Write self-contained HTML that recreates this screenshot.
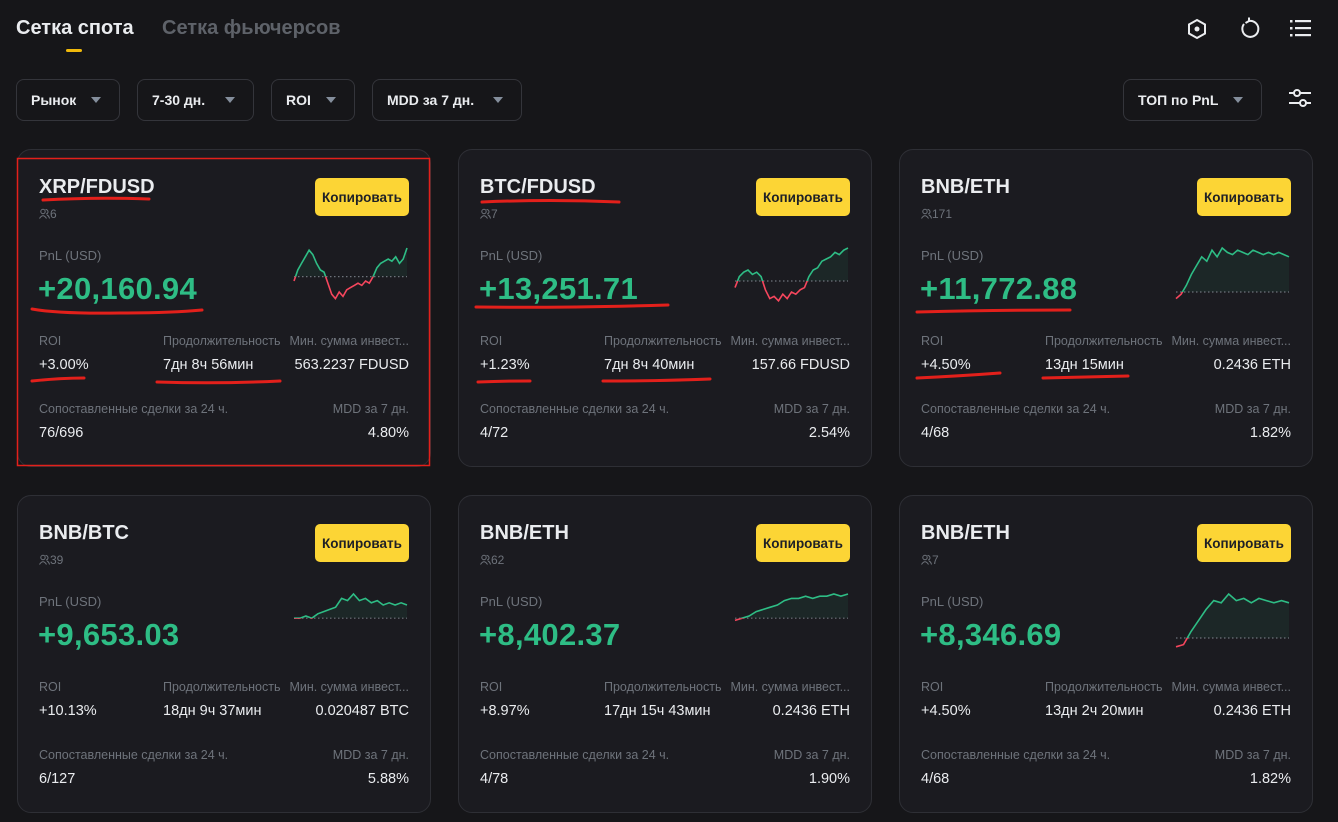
<!DOCTYPE html>
<html><head><meta charset="utf-8">
<style>
*{box-sizing:border-box;margin:0;padding:0}
body{width:1338px;height:822px;background:#161619;font-family:"Liberation Sans",sans-serif;color:#eaecef;position:relative;overflow:hidden}
.abs{position:absolute}
.tab{position:absolute;top:17px;font-size:20px;font-weight:bold}
.filter{position:absolute;top:79px;height:42px;border:1px solid #34353b;border-radius:8px;font-size:14px;font-weight:bold;color:#eaecef;display:flex;align-items:center;padding-left:14px}
.filter .car{position:absolute;right:18px;top:17px;width:0;height:0;border-left:5px solid transparent;border-right:5px solid transparent;border-top:6px solid #848e9c}
.card{position:absolute;width:414px;height:318px;background:#1b1b20;border:1px solid #2e2f35;border-radius:14px}
.card .t{position:absolute;left:21px;top:26px;font-size:20px;font-weight:bold;color:#eaecef}
.card .u{position:absolute;left:21px;top:57px;font-size:12px;color:#6e737b}
.card .btn{position:absolute;left:297px;top:28px;width:94px;height:38px;background:#fcd535;border-radius:5px;color:#1e2026;font-size:13.5px;font-weight:bold;display:flex;align-items:center;justify-content:center}
.card .pl{position:absolute;left:21px;top:98px;font-size:13px;color:#6e737b}
.card .pv{position:absolute;left:20px;top:121px;font-size:31px;font-weight:bold;color:#2ebd85;letter-spacing:0.3px}
.card .lb{position:absolute;font-size:12.5px;color:#6e737b;white-space:nowrap}
.card .vl{position:absolute;font-size:14.5px;color:#eaecef;white-space:nowrap}
.card svg.sp{position:absolute;left:274px;top:94px}
</style></head><body>
<div class="tab" style="left:16px;color:#eaecef">Сетка спота</div>
<div class="abs" style="left:66px;top:49px;width:16px;height:3px;background:#f0b90b;border-radius:2px"></div>
<div class="tab" style="left:162px;color:#5e6269">Сетка фьючерсов</div>

<svg class="abs" style="left:1186px;top:18px" width="22" height="22" viewBox="0 0 22 22"><polygon points="11,2 19,6.5 19,15.5 11,20 3,15.5 3,6.5" fill="none" stroke="#eaecef" stroke-width="2"/><circle cx="11" cy="11" r="2.5" fill="#eaecef"/></svg>
<svg class="abs" style="left:1237px;top:17px" width="24" height="24" viewBox="0 0 24 24"><path d="M7 7 A8 8 0 1 0 12 4" fill="none" stroke="#eaecef" stroke-width="2"/><polyline points="12,0.5 12,4 8.5,6" fill="none" stroke="#eaecef" stroke-width="2"/></svg>
<svg class="abs" style="left:1290px;top:18px" width="22" height="20" viewBox="0 0 22 20"><g fill="#eaecef"><rect x="0" y="2" width="2.5" height="2.5"/><rect x="0" y="9" width="2.5" height="2.5"/><rect x="0" y="16" width="2.5" height="2.5"/><rect x="5" y="2" width="16" height="2.2"/><rect x="5" y="9" width="16" height="2.2"/><rect x="5" y="16" width="16" height="2.2"/></g></svg>

<div class="filter" style="left:16px;width:104px">Рынок<span class="car"></span></div>
<div class="filter" style="left:137px;width:117px">7-30 дн.<span class="car"></span></div>
<div class="filter" style="left:271px;width:84px">ROI<span class="car"></span></div>
<div class="filter" style="left:372px;width:150px">MDD за 7 дн.<span class="car"></span></div>
<div class="filter" style="left:1123px;width:139px">ТОП по PnL<span class="car"></span></div>
<svg class="abs" style="left:1288px;top:86px" width="24" height="24" viewBox="0 0 24 24"><g stroke="#eaecef" stroke-width="2" fill="#161619"><line x1="1" y1="7" x2="23" y2="7"/><line x1="1" y1="17" x2="23" y2="17"/><circle cx="9" cy="7" r="3"/><circle cx="15" cy="17" r="3"/></g></svg>

<div id="cards"></div>

<svg class="abs" style="left:0;top:0;pointer-events:none" width="1338" height="822">
<g fill="none" stroke="#e3201b" stroke-width="3" stroke-linecap="round">
<rect x="17.5" y="158.5" width="412" height="307" stroke-width="1.5"/>
<path d="M43 200 Q95 197 149 199"/>
<path d="M32 309 Q60 314 120 313 Q170 313 202 310"/>
<path d="M32 381 Q60 378 84 378"/>
<path d="M157 382 Q220 384 280 381"/>
<path d="M482 202 Q550 199 619 202"/>
<path d="M476 307 Q560 308 668 305"/>
<path d="M478 382 Q505 381 530 381"/>
<path d="M603 381 Q660 381 710 379"/>
<path d="M917 312 Q1000 310 1070 310"/>
<path d="M917 378 Q960 376 1000 373"/>
<path d="M1043 378 Q1090 377 1128 376"/>
</g></svg>

<script>
const pairs=["XRP/FDUSD","BTC/FDUSD","BNB/ETH","BNB/BTC","BNB/ETH","BNB/ETH"];
const users=["6","7","171","39","62","7"];
const pnl=["+20,160.94","+13,251.71","+11,772.88","+9,653.03","+8,402.37","+8,346.69"];
const roi=["+3.00%","+1.23%","+4.50%","+10.13%","+8.97%","+4.50%"];
const duration=["7дн 8ч 56мин","7дн 8ч 40мин","13дн 15мин","18дн 9ч 37мин","17дн 15ч 43мин","13дн 2ч 20мин"];
const minInvest=["563.2237 FDUSD","157.66 FDUSD","0.2436 ETH","0.020487 BTC","0.2436 ETH","0.2436 ETH"];
const matched=["76/696","4/72","4/68","6/127","4/78","4/68"];
const mdd=["4.80%","2.54%","1.82%","5.88%","1.90%","1.82%"];
const spark1=[-2,3,6,9,12,10,6,3,2,-3,-8,-10,-7,-9,-6,-5,-4,-3,-4,-2,-3,0,4,6,7,8,7,9,6,8,13];
const spark2=[-3,2,4,5,3,4,2,-4,-8,-7,-9,-6,-8,-5,-6,-4,-3,2,5,6,9,10,11,13,12,14,15];
const spark3=[-3,-1,3,8,12,16,14,19,16,20,18,17,19,18,17,19,18,17,18,17,18,17,16];
const spark4=[0,0,1,0,2,3,4,5,9,8,11,8,9,7,8,6,7,6,7,6];
const spark5=[-1,0,1,3,4,5,6,8,9,9,10,9,10,10,11,10,11];
const spark6=[-4,-3,3,8,13,17,16,20,17,18,16,18,17,16,17,16];
const sparks=[spark1,spark2,spark3,spark4,spark5,spark6];
const colX=[17,458,899], rowY=[149,495];
const W=117,H=60,K=2.2;
const cont=document.getElementById('cards');
for(let i=0;i<6;i++){
  const c=document.createElement('div');
  c.className='card';
  
  
  c.style.left=colX[i%3]+'px';c.style.top=rowY[Math.floor(i/3)]+'px';
  c.innerHTML=`<div class="t">${pairs[i]}</div>
<div class="u"><svg width="11" height="11" viewBox="0 0 11 11" style="vertical-align:-1px"><g fill="none" stroke="#6e737b" stroke-width="1"><circle cx="4" cy="3.5" r="2.2"/><path d="M0.5 10.5 Q4 5 7.5 10.5"/><path d="M6.5 1.5 A2 2 0 1 1 7 6 M8 7 Q10 8 10.5 10.5"/></g></svg>${users[i]}</div>
<div class="btn">Копировать</div>
<div class="pl">PnL (USD)</div>
<div class="pv">${pnl[i]}</div>
<div class="lb" style="left:21px;top:184px">ROI</div>
<div class="vl" style="left:21px;top:207px">${roi[i]}</div>
<div class="lb" style="left:145px;top:184px">Продолжительность</div>
<div class="vl" style="left:145px;top:207px">${duration[i]}</div>
<div class="lb" style="right:21px;top:184px">Мин. сумма инвест...</div>
<div class="vl" style="right:21px;top:207px">${minInvest[i]}</div>
<div class="lb" style="left:21px;top:252px">Сопоставленные сделки за 24 ч.</div>
<div class="vl" style="left:21px;top:275px">${matched[i]}</div>
<div class="lb" style="right:21px;top:252px">MDD за 7 дн.</div>
<div class="vl" style="right:21px;top:275px">${mdd[i]}</div>`;
  cont.appendChild(c);
  const d=sparks[i];
  const mx=Math.max(...d);
  const x=k=>2+k*(W-4)/(d.length-1);
  const y=v=>Math.min(H-2,4+(mx-v)*K);
  const pts=d.map((v,k)=>x(k).toFixed(1)+','+y(v).toFixed(1)).join(' ');
  const by=y(0);
  const ns='http://www.w3.org/2000/svg';
  const s=document.createElementNS(ns,'svg');
  s.setAttribute('class','sp');
  s.setAttribute('width',W);s.setAttribute('height',H);
  
  
  s.innerHTML=`<defs><clipPath id="a${i}"><rect x="0" y="0" width="${W}" height="${by}"/></clipPath><clipPath id="b${i}"><rect x="0" y="${by}" width="${W}" height="${H-by}"/></clipPath></defs>
<polygon points="${x(0)},${by} ${pts} ${x(d.length-1)},${by}" fill="#2ebd85" opacity="0.08" clip-path="url(#a${i})"/>
<line x1="2" y1="${by}" x2="${W-2}" y2="${by}" stroke="#6e737b" stroke-width="1.2" stroke-dasharray="1.5 2.5"/>
<polyline points="${pts}" fill="none" stroke="#2ebd85" stroke-width="1.6" clip-path="url(#a${i})"/>
<polyline points="${pts}" fill="none" stroke="#f6465d" stroke-width="1.6" clip-path="url(#b${i})"/>`;
  c.appendChild(s);
}
</script>
</body></html>
